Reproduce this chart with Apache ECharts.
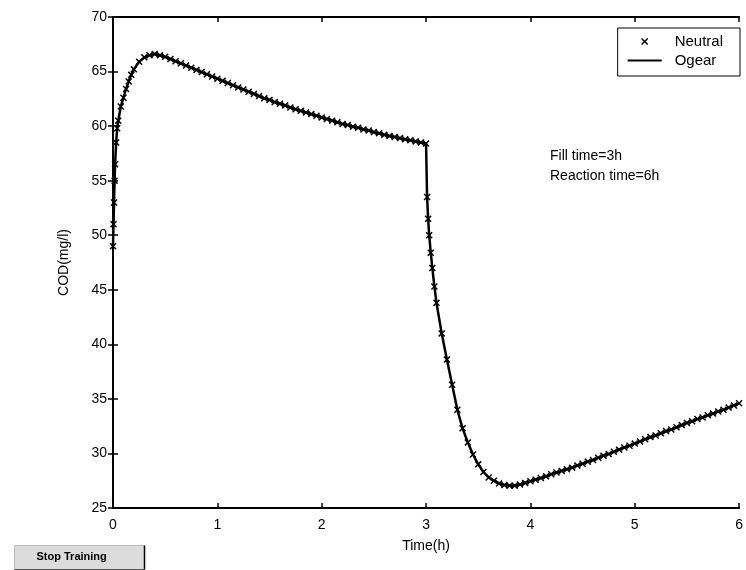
<!DOCTYPE html>
<html>
<head>
<meta charset="utf-8">
<script src="https://cdn.jsdelivr.net/npm/echarts@6/dist/echarts.min.js"></script>
<style>
  html, body { margin: 0; padding: 0; background: #fff; }
  #main { width: 746px; height: 570px; }
</style>
</head>
<body>
<div id="main"></div>
<script>
// time axis (h) and COD (mg/l)
var timeH = [
  0, 0.005, 0.01, 0.015, 0.02, 0.03, 0.04, 0.05, 0.075, 0.1, 0.125, 0.15, 0.175, 0.2, 0.25, 0.3, 0.35, 0.4, 0.45,
  0.5, 0.55, 0.6, 0.65, 0.7, 0.75, 0.8, 0.85, 0.9, 0.95, 1.0, 1.05, 1.1, 1.15, 1.2, 1.25, 1.3, 1.35, 1.4, 1.45,
  1.5, 1.55, 1.6, 1.65, 1.7, 1.75, 1.8, 1.85, 1.9, 1.95, 2.0, 2.05, 2.1, 2.15, 2.2, 2.25, 2.3, 2.35, 2.4, 2.45,
  2.5, 2.55, 2.6, 2.65, 2.7, 2.75, 2.8, 2.85, 2.9, 2.95, 3.0,
  3.01, 3.02, 3.03, 3.045, 3.06, 3.08, 3.1, 3.15, 3.2, 3.25, 3.3, 3.35, 3.4, 3.45,
  3.5, 3.55, 3.6, 3.65, 3.7, 3.75, 3.8, 3.85, 3.9, 3.95, 4.0, 4.05, 4.1, 4.15, 4.2, 4.25, 4.3, 4.35, 4.4, 4.45,
  4.5, 4.55, 4.6, 4.65, 4.7, 4.75, 4.8, 4.85, 4.9, 4.95, 5.0, 5.05, 5.1, 5.15, 5.2, 5.25, 5.3, 5.35, 5.4, 5.45,
  5.5, 5.55, 5.6, 5.65, 5.7, 5.75, 5.8, 5.85, 5.9, 5.95, 6.0
]
var codValues = [
  49, 51, 53, 55, 56.5, 58.5, 59.8, 60.5, 61.8, 62.6, 63.4, 64.1, 64.7, 65.2, 65.9, 66.3, 66.5, 66.6, 66.5,
  66.35, 66.15, 65.95, 65.75, 65.55, 65.35, 65.15, 64.95, 64.75, 64.55, 64.35, 64.15, 63.95, 63.75, 63.55, 63.35, 63.15, 62.95, 62.75, 62.55,
  62.4, 62.2, 62.05, 61.9, 61.7, 61.55, 61.4, 61.25, 61.1, 60.95, 60.8, 60.65, 60.5, 60.35, 60.2, 60.1, 59.95, 59.85, 59.7, 59.6,
  59.45, 59.35, 59.2, 59.1, 59.0, 58.9, 58.8, 58.7, 58.6, 58.5, 58.4,
  53.5, 51.5, 50.0, 48.4, 47.0, 45.3, 43.8, 41.0, 38.6, 36.3, 34.0, 32.3, 31.0, 29.9,
  29.0, 28.3, 27.8, 27.5, 27.25, 27.1, 27.05, 27.05, 27.15, 27.3, 27.45, 27.6, 27.75, 27.9, 28.1, 28.25, 28.4, 28.55, 28.7, 28.9,
  29.05, 29.25, 29.4, 29.6, 29.8, 29.95, 30.15, 30.35, 30.55, 30.7, 30.9, 31.1, 31.3, 31.5, 31.65, 31.85, 32.05, 32.2, 32.4, 32.6,
  32.8, 32.95, 33.15, 33.3, 33.5, 33.65, 33.85, 34.0, 34.2, 34.4, 34.6
]
var seriesNames = ['Neutral', 'Ogear']
var noteLines = ['Fill time=3h', 'Reaction time=6h']

var points = timeH.map(function (t, i) { return [t, codValues[i]] })

// x-shaped marker, a bit heavy like the scanned plot
var crossPath = 'path://M0,1.5L1.5,0L5,3.5L8.5,0L10,1.5L6.5,5L10,8.5L8.5,10L5,6.5L1.5,10L0,8.5L3.5,5Z'
var font = 'Liberation Sans, Arial, sans-serif'

var chart = echarts.init(document.getElementById('main'))
chart.setOption({
  animation: false,
  backgroundColor: '#fff',
  grid: { left: 113, top: 17, right: 6, bottom: 62 },
  legend: {
    orient: 'vertical',
    right: 6,
    top: 28,
    padding: [6, 17, 8, 9],
    itemGap: 4,
    itemWidth: 34,
    itemHeight: 9,
    borderColor: '#000',
    borderWidth: 1,
    backgroundColor: '#fff',
    borderRadius: 0,
    textStyle: { fontFamily: font, fontSize: 15, color: '#000', padding: [0, 0, 0, 8] },
    data: [
      seriesNames[0],
      { name: seriesNames[1], itemStyle: { opacity: 0 } }
    ]
  },
  xAxis: [
    {
      type: 'value', min: 0, max: 6, interval: 1,
      name: 'Time(h)', nameLocation: 'middle', nameGap: 31,
      nameTextStyle: { fontFamily: font, fontSize: 14, color: '#000' },
      axisLine: { lineStyle: { color: '#000', width: 2 } },
      axisTick: { inside: true, length: 5, lineStyle: { color: '#000', width: 1.5 } },
      axisLabel: { fontFamily: font, fontSize: 14, color: '#000', margin: 10 },
      splitLine: { show: false }
    },
    {
      type: 'value', min: 0, max: 6, interval: 1, position: 'top',
      axisLine: { lineStyle: { color: '#000', width: 2 } },
      axisTick: { inside: true, length: 5, lineStyle: { color: '#000', width: 1.5 } },
      axisLabel: { show: false },
      splitLine: { show: false }
    }
  ],
  yAxis: [
    {
      type: 'value', min: 25, max: 70, interval: 5,
      name: 'COD(mg/l)', nameLocation: 'middle', nameGap: 42, nameRotate: 90,
      nameTextStyle: { fontFamily: font, fontSize: 14, color: '#000' },
      axisLine: { lineStyle: { color: '#000', width: 2 } },
      axisTick: { inside: true, length: 5, lineStyle: { color: '#000', width: 1.5 } },
      axisLabel: { fontFamily: font, fontSize: 14, color: '#000', margin: 6 },
      splitLine: { show: false }
    },
    {
      type: 'value', min: 25, max: 70, interval: 5, position: 'right',
      axisLine: { lineStyle: { color: '#000', width: 2 } },
      axisTick: { inside: true, length: 5, lineStyle: { color: '#000', width: 1.5 } },
      axisLabel: { show: false },
      splitLine: { show: false }
    }
  ],
  series: [
    {
      name: seriesNames[0],
      type: 'line',
      data: points,
      symbol: crossPath,
      symbolSize: 7,
      showAllSymbol: true,
      itemStyle: { color: '#000' },
      lineStyle: { opacity: 0 },
      z: 3
    },
    {
      name: seriesNames[1],
      type: 'line',
      data: points,
      symbol: 'none',
      lineStyle: { color: '#000', width: 2.5 },
      itemStyle: { color: '#000' },
      z: 2
    }
  ],
  graphic: [
    {
      type: 'text', left: 550, top: 149,
      style: { text: noteLines[0], font: '14px ' + font, fill: '#000' }
    },
    {
      type: 'text', left: 550, top: 169,
      style: { text: noteLines[1], font: '14px ' + font, fill: '#000' }
    },
    {
      type: 'group', left: 12, top: 543,
      children: [
        { type: 'rect', shape: { x: 0, y: 0, width: 130, height: 24 }, style: { fill: '#dcdcdc', stroke: '#bbb', lineWidth: 1 } },
        { type: 'line', shape: { x1: 130, y1: 0, x2: 130, y2: 24 }, style: { stroke: '#000', lineWidth: 1.5 } },
        { type: 'line', shape: { x1: 0, y1: 24, x2: 130, y2: 24 }, style: { stroke: '#555', lineWidth: 1 } },
        { type: 'text', x: 22, y: 6, style: { text: 'Stop Training', font: 'bold 11px ' + font, fill: '#000' } }
      ]
    }
  ]
})
</script>
</body>
</html>
